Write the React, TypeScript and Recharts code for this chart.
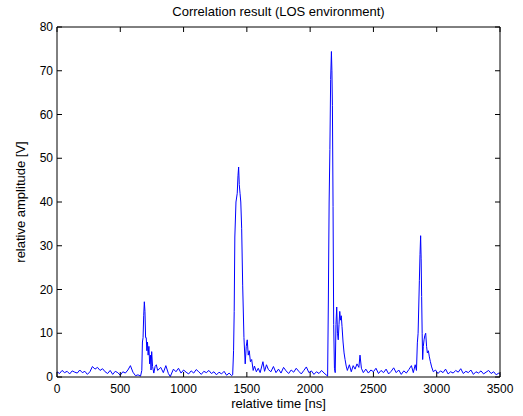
import React from "react";
import { LineChart, Line, XAxis, YAxis } from "recharts";

// [time ns, amplitude V], segment by segment
const noiseA: [number, number][] = [
  [0, 1.2], [20, 0.8], [40, 1.5], [60, 1.0], [80, 1.3], [100, 0.7], [120, 1.4], [140, 1.1],
  [160, 0.9], [180, 1.6], [200, 1.0], [220, 1.3], [240, 0.6], [260, 1.2], [280, 2.4], [300, 1.8],
  [320, 2.2], [340, 1.5], [360, 1.9], [380, 1.2], [400, 0.8], [420, 1.5], [440, 0.6], [460, 1.3],
  [480, 1.0], [500, 0.4], [520, 1.2], [540, 0.9], [560, 1.6], [580, 2.6], [600, 1.1], [620, 0.3],
  [640, 0.5], [660, 0.2],
];

const peak1: [number, number][] = [
  [670, 1.5], [675, 8], [680, 9], [685, 14], [690, 17.2], [695, 15], [700, 9], [705, 9],
  [710, 6], [715, 8], [720, 5], [726, 7], [732, 3], [738, 5], [743, 1.6], [748, 5.8], [755, 2.4],
  [765, 0.9], [775, 2.4], [785, 2.8], [795, 1.5],
];

const noiseB: [number, number][] = [
  [820, 2.2], [840, 1.0], [860, 2.6], [880, 0.8], [895, 0.1], [920, 1.8], [940, 1.2], [960, 2.0],
  [980, 0.9], [1000, 1.6], [1020, 1.1], [1040, 0.7], [1060, 1.4], [1080, 0.9], [1100, 1.7],
  [1120, 1.2], [1140, 0.6], [1160, 1.3], [1180, 1.0], [1200, 1.5], [1220, 0.8], [1240, 1.2],
  [1260, 0.5], [1280, 1.1], [1300, 0.7], [1320, 1.3], [1340, 0.4], [1360, 0.9], [1380, 0.3],
];

const peak2: [number, number][] = [
  [1388, 0.5], [1395, 6], [1400, 15], [1405, 32], [1414, 40], [1424, 42], [1430, 46], [1435, 48],
  [1440, 44], [1446, 42], [1452, 40], [1459, 34], [1467, 21], [1477, 9], [1487, 3], [1495, 7],
  [1503, 8.5], [1511, 5], [1519, 6], [1528, 3.5], [1538, 4], [1550, 1.5], [1560, 2.5], [1575, 1.2],
  [1590, 2.0], [1605, 1.0], [1627, 3.5], [1640, 1.3], [1655, 2.8], [1670, 1.7],
];

const noiseC: [number, number][] = [
  [1690, 1.2], [1710, 2.4], [1730, 1.0], [1750, 1.8], [1770, 0.9], [1790, 2.2], [1810, 1.4],
  [1830, 0.8], [1850, 1.6], [1870, 1.1], [1890, 2.0], [1910, 1.3], [1930, 0.7], [1950, 1.5],
  [1970, 2.3], [1990, 1.0], [2010, 1.4], [2030, 0.6], [2050, 1.2], [2070, 0.8], [2090, 1.5],
  [2110, 0.9], [2130, 0.4],
];

const peak3: [number, number][] = [
  [2138, 0.2], [2144, 17.6], [2150, 40], [2156, 52], [2162, 68], [2168, 74.4], [2172, 70],
  [2176, 62], [2181, 39], [2186, 12], [2192, 2], [2198, 1], [2204, 12], [2210, 16], [2216, 10],
  [2222, 8.5], [2228, 12], [2234, 15], [2240, 13], [2246, 14], [2252, 11.5], [2260, 8],
  [2268, 5.5], [2276, 4], [2285, 2.5], [2294, 1.5], [2310, 2.8], [2325, 1.2], [2340, 2.6],
  [2355, 1.8], [2370, 3.0], [2385, 2.2], [2394, 5], [2405, 2], [2420, 1.0], [2440, 1.8],
  [2460, 0.9], [2480, 1.6],
];

const noiseD: [number, number][] = [
  [2500, 1.2], [2520, 2.0], [2540, 0.8], [2560, 1.5], [2580, 1.0], [2600, 1.8], [2620, 0.7],
  [2640, 1.3], [2660, 2.1], [2680, 1.0], [2700, 1.6], [2720, 0.6], [2740, 1.4], [2760, 0.9],
  [2780, 1.7], [2800, 2.6], [2815, 1.0], [2830, 2.8], [2840, 1.5],
];

const peak4: [number, number][] = [
  [2847, 7.8], [2853, 10], [2858, 16], [2863, 22], [2868, 28], [2873, 32.3], [2877, 27],
  [2881, 18.4], [2885, 10], [2889, 4], [2894, 7], [2900, 8.5], [2906, 9.5], [2913, 10],
  [2920, 7], [2926, 5.5], [2934, 6], [2942, 4.6], [2950, 3.5], [2960, 2.3], [2973, 1.2],
];

const noiseE: [number, number][] = [
  [2990, 1.6], [3010, 0.8], [3030, 1.4], [3050, 1.0], [3070, 1.8], [3090, 0.7], [3110, 1.2],
  [3130, 0.9], [3150, 1.5], [3170, 1.1], [3190, 1.9], [3210, 0.8], [3230, 1.3], [3250, 1.0],
  [3270, 1.6], [3290, 0.6], [3310, 1.2], [3330, 0.9], [3350, 1.4], [3370, 0.7], [3390, 1.1],
  [3410, 1.5], [3430, 0.8], [3450, 1.2], [3470, 0.5], [3490, 0.9], [3500, 0.6],
];

const xTicks = [0, 500, 1000, 1500, 2000, 2500, 3000, 3500];
const yTicks = [0, 10, 20, 30, 40, 50, 60, 70, 80];

const data = [...noiseA, ...peak1, ...noiseB, ...peak2, ...noiseC, ...peak3, ...noiseD, ...peak4, ...noiseE]
  .map(([t, v]) => ({ t, v }));

const FONT = "'Liberation Sans', Arial, sans-serif";
const TICK_LEN = 5;

const BottomTick = ({ x, y, payload }: any) => (
  <g>
    <line x1={x} y1={y} x2={x} y2={y - TICK_LEN} stroke="#000" />
    <text x={x} y={y + 16} textAnchor="middle" fontSize={12} fontFamily={FONT} fill="#000">
      {payload.value}
    </text>
  </g>
);

const TopTick = ({ x, y }: any) => <line x1={x} y1={y} x2={x} y2={y + TICK_LEN} stroke="#000" />;

const LeftTick = ({ x, y, payload }: any) => (
  <g>
    <line x1={x} y1={y} x2={x + TICK_LEN} y2={y} stroke="#000" />
    <text x={x - 4} y={y + 4} textAnchor="end" fontSize={12} fontFamily={FONT} fill="#000">
      {payload.value}
    </text>
  </g>
);

const RightTick = ({ x, y }: any) => <line x1={x} y1={y} x2={x - TICK_LEN} y2={y} stroke="#000" />;

const textStyle: React.CSSProperties = {
  position: "absolute",
  fontSize: 13,
  lineHeight: "15px",
  color: "#000",
  whiteSpace: "nowrap",
  zIndex: 2,
};

const App = () => {
  return (
    <div style={{ position: "fixed", left: 0, top: 0, width: 523, height: 416, background: "#fff", fontFamily: FONT, overflow: "hidden" }}>
      <div style={{ position: "absolute", left: 0, top: 0 }}>
        <LineChart width={523} height={416} data={data} margin={{ top: 26, right: 22, left: 0, bottom: 19 }}>
          <XAxis
            dataKey="t"
            type="number"
            domain={[0, 3500]}
            ticks={xTicks}
            interval={0}
            height={20}
            tickSize={0}
            tickMargin={0}
            tickLine={false}
            axisLine={{ stroke: "#000" }}
            tick={<BottomTick />}
          />
          <XAxis
            xAxisId="top"
            orientation="top"
            dataKey="t"
            type="number"
            domain={[0, 3500]}
            ticks={xTicks}
            interval={0}
            height={1}
            tickSize={0}
            tickMargin={0}
            tickLine={false}
            axisLine={{ stroke: "#000" }}
            tick={<TopTick />}
          />
          <YAxis
            type="number"
            domain={[0, 80]}
            ticks={yTicks}
            interval={0}
            width={57}
            tickSize={0}
            tickMargin={0}
            tickLine={false}
            axisLine={{ stroke: "#000" }}
            tick={<LeftTick />}
          />
          <YAxis
            yAxisId="right"
            orientation="right"
            type="number"
            domain={[0, 80]}
            ticks={yTicks}
            interval={0}
            width={1}
            tickSize={0}
            tickMargin={0}
            tickLine={false}
            axisLine={{ stroke: "#000" }}
            tick={<RightTick />}
          />
          {/* invisible copy so the top and right axes have a series bound to them */}
          <Line
            xAxisId="top"
            yAxisId="right"
            dataKey="v"
            type="linear"
            stroke="none"
            dot={false}
            activeDot={false}
            isAnimationActive={false}
          />
          <Line
            dataKey="v"
            type="linear"
            stroke="#0000ff"
            strokeWidth={1}
            dot={false}
            isAnimationActive={false}
          />
        </LineChart>
      </div>
      <div style={{ ...textStyle, left: 57, width: 443, top: 4, textAlign: "center" }}>
        Correlation result (LOS environment)
      </div>
      <div style={{ ...textStyle, left: 57, width: 443, top: 396, textAlign: "center" }}>
        relative time [ns]
      </div>
      <div style={{ ...textStyle, left: 20, top: 202, transform: "translate(-50%, -50%) rotate(-90deg)" }}>
        relative amplitude [V]
      </div>
    </div>
  );
};

export default App;
